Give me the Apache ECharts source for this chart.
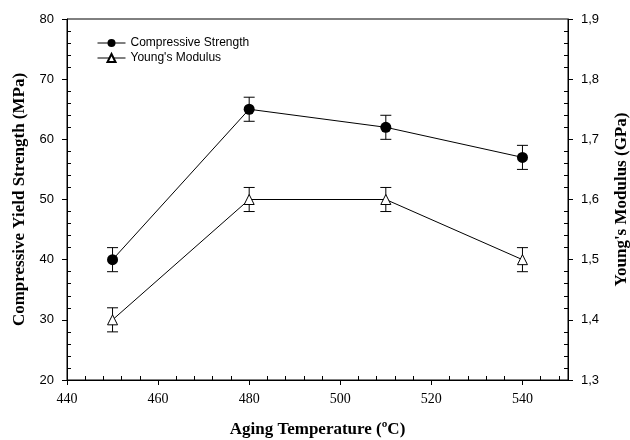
<!DOCTYPE html>
<html>
<head>
<meta charset="utf-8">
<script src="https://cdn.jsdelivr.net/npm/echarts@6/dist/echarts.min.js"></script>
<style>
  html, body { margin: 0; padding: 0; background: #fff; }
  #chart { width: 630px; height: 440px; }
</style>
</head>
<body>
<div id="chart"></div>
<script>
// Aging temperature (°C)
const temperatures = [450, 480, 510, 540];
// Compressive yield strength (MPa) and its error
const compressive = [40, 65, 62, 57];
const compressiveErr = [2, 2, 2, 2];
// Young's modulus (GPa) and its error
const youngs = [1.4, 1.6, 1.6, 1.5];
const youngsErr = [0.02, 0.02, 0.02, 0.02];

// Axis tick labels
const xTicks = [440, 460, 480, 500, 520, 540];
const leftTicks = [20, 30, 40, 50, 60, 70, 80];
const rightTicks = [1.3, 1.4, 1.5, 1.6, 1.7, 1.8, 1.9];

const SERIF = 'Liberation Serif';
const SANS = 'Liberation Sans';

// minor tick positions between the labelled ticks
function minorValues(from, to, step, major) {
  const out = [];
  const n = Math.round((to - from) / step);
  for (let i = 0; i <= n; i++) {
    const v = +(from + i * step).toFixed(4);
    if (!major.some(m => Math.abs(m - v) < 1e-6)) out.push(v);
  }
  return out;
}

function errorBars(values, errs) {
  return temperatures.map((t, i) => [t, values[i] - errs[i], values[i] + errs[i]]);
}

function renderErrorBar(params, api) {
  const x = api.value(0);
  const lo = api.coord([x, api.value(1)]);
  const hi = api.coord([x, api.value(2)]);
  const half = 5.5;
  const style = { stroke: '#000', lineWidth: 1, fill: null };
  return {
    type: 'group',
    children: [
      { type: 'line', shape: { x1: hi[0] - half, y1: hi[1], x2: hi[0] + half, y2: hi[1] }, style },
      { type: 'line', shape: { x1: hi[0], y1: hi[1], x2: lo[0], y2: lo[1] }, style },
      { type: 'line', shape: { x1: lo[0] - half, y1: lo[1], x2: lo[0] + half, y2: lo[1] }, style }
    ]
  };
}

const axisLine = { show: true, lineStyle: { color: '#000', width: 1 } };
const nameStyle = { fontFamily: SERIF, fontWeight: 'bold', fontSize: 17, color: '#000' };

const chart = echarts.init(document.getElementById('chart'), null, { renderer: 'canvas' });

chart.setOption({
  animation: false,
  backgroundColor: '#fff',
  grid: {
    left: 67, right: 62, top: 19, bottom: 60,
    outerBoundsMode: 'none', containLabel: false,
    show: true, borderColor: '#000', borderWidth: 1, backgroundColor: 'transparent'
  },
  legend: {
    orient: 'vertical',
    left: 92, top: 32,
    itemWidth: 28, itemHeight: 10, itemGap: 3,
    lineStyle: { width: 1 },
    textStyle: { fontFamily: SANS, fontSize: 12, color: '#000' },
    data: ['Compressive Strength', "Young's Modulus"]
  },
  xAxis: [
    {
      type: 'value', min: 440, max: 550, interval: 20, position: 'bottom',
      name: 'Aging Temperature (ºC)', nameLocation: 'middle', nameGap: 41,
      nameTextStyle: nameStyle,
      axisLine,
      axisTick: { show: true, length: 5, lineStyle: { color: '#000' }, customValues: xTicks },
      axisLabel: { fontFamily: SERIF, fontSize: 14, color: '#000', margin: 12, customValues: xTicks },
      splitLine: { show: false }
    },
    {
      type: 'value', min: 440, max: 550, position: 'bottom',
      axisLine: { show: false },
      axisTick: { show: true, inside: true, length: 4, lineStyle: { color: '#000' },
                  customValues: minorValues(440, 548, 4, xTicks) },
      axisLabel: { show: false },
      splitLine: { show: false }
    }
  ],
  yAxis: [
    {
      type: 'value', min: 20, max: 80, interval: 10, position: 'left',
      name: 'Compressive Yield Strength (MPa)', nameLocation: 'middle', nameGap: 39,
      nameTextStyle: nameStyle,
      axisLine,
      axisTick: { show: true, length: 5, lineStyle: { color: '#000' } },
      axisLabel: { fontFamily: SANS, fontSize: 13, color: '#000', margin: 13 },
      splitLine: { show: false }
    },
    {
      type: 'value', min: 1.3, max: 1.9, interval: 0.1, position: 'right',
      name: "Young's Modulus (GPa)", nameLocation: 'middle', nameGap: 45, nameRotate: 90,
      nameTextStyle: nameStyle,
      axisLine,
      axisTick: { show: true, length: 5, lineStyle: { color: '#000' } },
      axisLabel: {
        fontFamily: SANS, fontSize: 13, color: '#000', margin: 13,
        formatter: v => v.toFixed(1).replace('.', ',')
      },
      splitLine: { show: false }
    },
    {
      type: 'value', min: 20, max: 80, position: 'left',
      axisLine: { show: false },
      axisTick: { show: true, inside: true, length: 4, lineStyle: { color: '#000' },
                  customValues: minorValues(20, 80, 2, leftTicks) },
      axisLabel: { show: false },
      splitLine: { show: false }
    },
    {
      type: 'value', min: 1.3, max: 1.9, position: 'right',
      axisLine: { show: false },
      axisTick: { show: true, inside: true, length: 4, lineStyle: { color: '#000' },
                  customValues: minorValues(1.3, 1.9, 0.02, rightTicks) },
      axisLabel: { show: false },
      splitLine: { show: false }
    }
  ],
  series: [
    {
      name: 'Compressive Strength error', type: 'custom', xAxisIndex: 0, yAxisIndex: 0,
      renderItem: renderErrorBar, data: errorBars(compressive, compressiveErr), z: 2,
      encode: { x: 0, y: [1, 2] }
    },
    {
      name: "Young's Modulus error", type: 'custom', xAxisIndex: 0, yAxisIndex: 1,
      renderItem: renderErrorBar, data: errorBars(youngs, youngsErr), z: 2,
      encode: { x: 0, y: [1, 2] }
    },
    {
      name: 'Compressive Strength', type: 'line', xAxisIndex: 0, yAxisIndex: 0,
      data: temperatures.map((t, i) => [t, compressive[i]]),
      symbol: 'circle', symbolSize: 11, z: 3,
      lineStyle: { color: '#000', width: 1 },
      itemStyle: { color: '#000', borderColor: '#000', borderWidth: 0 }
    },
    {
      name: "Young's Modulus", type: 'line', xAxisIndex: 0, yAxisIndex: 1,
      data: temperatures.map((t, i) => [t, youngs[i]]),
      symbol: 'triangle', symbolSize: 10, z: 3,
      lineStyle: { color: '#000', width: 1 },
      itemStyle: { color: '#fff', borderColor: '#000', borderWidth: 1 }
    }
  ]
});
</script>
</body>
</html>
